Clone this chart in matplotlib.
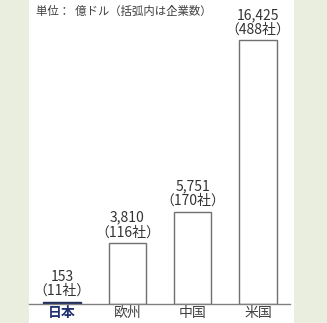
import matplotlib.pyplot as plt
import matplotlib.patches as mpatches

plt.rcParams['font.family'] = ['Noto Sans CJK JP', 'DejaVu Sans']

# data
regions = ['日本', '欧州', '中国', '米国']
values = [153, 3810, 5751, 16425]
companies = [11, 116, 170, 488]

W, H = 327, 323
fig = plt.figure(figsize=(W / 100, H / 100), dpi=100)
fig.patch.set_facecolor('#e9eedf')

# white panel behind the chart
panel = mpatches.Rectangle((29 / W, 0), (294 - 29) / W, 1, transform=fig.transFigure,
                           facecolor='white', edgecolor='none', zorder=-10)
fig.patches.append(panel)

ax = fig.add_axes([29 / W, (H - 304) / H, 261 / W, 304 / H])
ax.set_facecolor('none')

x = list(range(len(regions)))
fills = ['#1f2d5c', 'white', 'white', 'white']
edges = ['#1f2d5c', '#707070', '#707070', '#707070']
ax.bar(x, values, width=0.57, color=fills, edgecolor=edges, linewidth=1.0, zorder=2)

# two lines of labels above each bar: value, then company count
for xi, v, c in zip(x, values, companies):
    ax.annotate(f'{v:,}', (xi, v), xytext=(0, 18), textcoords='offset points',
                ha='center', va='center', fontsize=10, color='#333333')
    ax.annotate(f'（{c}社）', (xi, v), xytext=(0, 7.5), textcoords='offset points',
                ha='center', va='center', fontsize=10, color='#333333')

ax.set_xlim(-0.505, 3.49)
ax.set_ylim(0, 18917)
for s in ['top', 'right', 'left']:
    ax.spines[s].set_visible(False)
ax.spines['bottom'].set_color('#808080')
ax.spines['bottom'].set_linewidth(1.0)
ax.set_yticks([])
ax.set_xticks(x)
ax.set_xticklabels(regions, fontsize=10)
ax.tick_params(axis='x', length=0, pad=1.5)
for lbl, r in zip(ax.get_xticklabels(), regions):
    if r == '日本':
        lbl.set_color('#1f3070')
        lbl.set_fontweight('bold')
    else:
        lbl.set_color('#404040')

fig.text(36 / W, 1 - 11 / H, '単位：  億ドル（括弧内は企業数）', ha='left', va='center',
         fontsize=8.2, color='#404040')

fig.savefig('out.png', dpi=100, facecolor=fig.get_facecolor())
